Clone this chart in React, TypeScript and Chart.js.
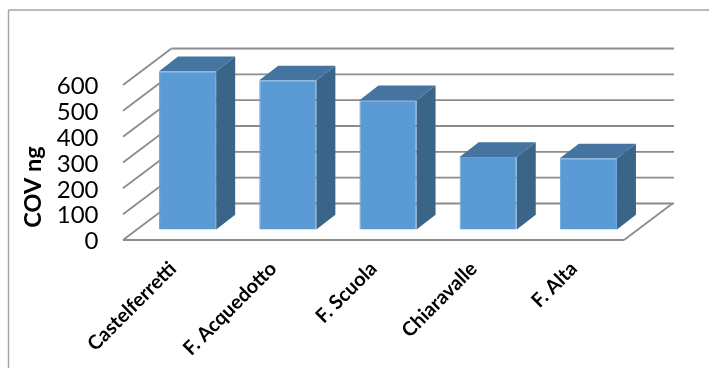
import React, { useEffect, useRef } from "react";
import { Chart, registerables } from "chart.js";

Chart.register(...registerables);

const categories = ["Castelferretti", "F. Acquedotto", "F. Scuola", "Chiaravalle", "F. Alta"];
const covValues = [612, 577, 500, 280, 275];
const axisTitle = "COV ng";

const GRID_COLOR = "#8c8c8c";
const FRONT_COLOR = "#5B9BD5";
const SIDE_COLOR = "#3A6488";
const TOP_COLOR = "#44749F";

// Oblique projection offsets: floor depth, bar plane inside the floor, bar thickness.
const WALL = { dx: 48.5, dy: -36.5 };
const BAR_PLANE = { dx: 14.5, dy: -10.6 };
const BAR_DEPTH = { dx: 19, dy: -14.7 };

function line(ctx: CanvasRenderingContext2D, x0: number, y0: number, x1: number, y1: number) {
  ctx.beginPath();
  ctx.moveTo(x0, y0);
  ctx.lineTo(x1, y1);
  ctx.stroke();
}

function poly(ctx: CanvasRenderingContext2D, pts: number[][], fill: string) {
  ctx.beginPath();
  pts.forEach(([x, y], i) => (i ? ctx.lineTo(x, y) : ctx.moveTo(x, y)));
  ctx.closePath();
  ctx.fillStyle = fill;
  ctx.fill();
}

// Frame, side wall, back wall and floor, all derived from the chart's scales.
const wallsPlugin = {
  id: "walls",
  beforeDatasetsDraw(chart: any) {
    const { ctx, chartArea, scales } = chart;
    const { left, right, bottom } = chartArea;
    ctx.save();
    ctx.strokeStyle = "#a3a3a3";
    ctx.lineWidth = 1.4;
    line(ctx, 8.5, 10, 709, 10);
    line(ctx, 8.5, 10, 8.5, 368);

    ctx.strokeStyle = GRID_COLOR;
    ctx.lineWidth = 1.8;
    for (const tick of scales.y.ticks) {
      const y = scales.y.getPixelForValue(tick.value);
      line(ctx, left, y, left + WALL.dx, y + WALL.dy);
      line(ctx, left + WALL.dx, y + WALL.dy, right + WALL.dx + 1.5, y + WALL.dy);
    }
    line(ctx, left, bottom, right, bottom);
    line(ctx, right, bottom, right + WALL.dx, bottom + WALL.dy);

    // Axis title sits low on the value axis.
    ctx.translate(33, scales.y.getPixelForValue(205));
    ctx.rotate(-Math.PI / 2);
    ctx.font = "bold 23.5px Lato";
    ctx.fillStyle = "#000";
    ctx.textAlign = "center";
    ctx.textBaseline = "middle";
    ctx.fillText(axisTitle, 0, 0);
    ctx.restore();

    // Bars stand further back on the floor; side and top faces go beneath the front.
    ctx.save();
    ctx.translate(BAR_PLANE.dx, BAR_PLANE.dy);
    for (const bar of chart.getDatasetMeta(0).data) {
      const { x, y, base, width } = bar.getProps(["x", "y", "base", "width"], true);
      const r = x + width / 2;
      const l = x - width / 2;
      poly(ctx, [[r, y], [r + BAR_DEPTH.dx, y + BAR_DEPTH.dy], [r + BAR_DEPTH.dx, base + BAR_DEPTH.dy], [r, base]], SIDE_COLOR);
      poly(ctx, [[l, y], [l + BAR_DEPTH.dx, y + BAR_DEPTH.dy], [r + BAR_DEPTH.dx, y + BAR_DEPTH.dy], [r, y]], TOP_COLOR);
    }
  },
  afterDatasetsDraw(chart: any) {
    chart.ctx.restore();
  },
};

export default function App() {
  const ref = useRef<HTMLCanvasElement>(null);

  useEffect(() => {
    const chart = new Chart(ref.current as HTMLCanvasElement, {
      type: "bar",
      data: {
        labels: categories,
        datasets: [
          {
            data: covValues,
            backgroundColor: FRONT_COLOR,
            borderColor: "#66A2D9",
            borderWidth: 1,
            barPercentage: 0.57,
            categoryPercentage: 1,
            clip: false,
          },
        ],
      },
      options: {
        responsive: false,
        animation: false,
        layout: { padding: { top: 85, right: 85, left: 0, bottom: 0 } },
        plugins: { legend: { display: false }, tooltip: { enabled: false } },
        scales: {
          x: {
            grid: { display: false, drawTicks: false },
            border: { display: false },
            afterFit: (s: any) => {
              s.height = 128;
            },
            ticks: {
              autoSkip: false,
              minRotation: 45,
              maxRotation: 45,
              padding: 17,
              color: "#000",
              font: { family: "Lato", size: 19.8, weight: "bold" },
            },
          },
          y: {
            min: 0,
            max: 600,
            grid: { display: false, drawTicks: false },
            border: { display: false },
            afterFit: (s: any) => {
              s.width = 123;
            },
            ticks: {
              autoSkip: false,
              stepSize: 100,
              padding: 24.5,
              labelOffset: 1.5,
              color: "#000",
              font: { family: "Lato", size: 24 },
            },
          },
        },
      },
      plugins: [wallsPlugin],
    } as any);
    return () => chart.destroy();
  }, []);

  return (
    <canvas
      ref={ref}
      width={709}
      height={368}
      style={{ position: "fixed", left: 0, top: 0, display: "block" }}
    />
  );
}
